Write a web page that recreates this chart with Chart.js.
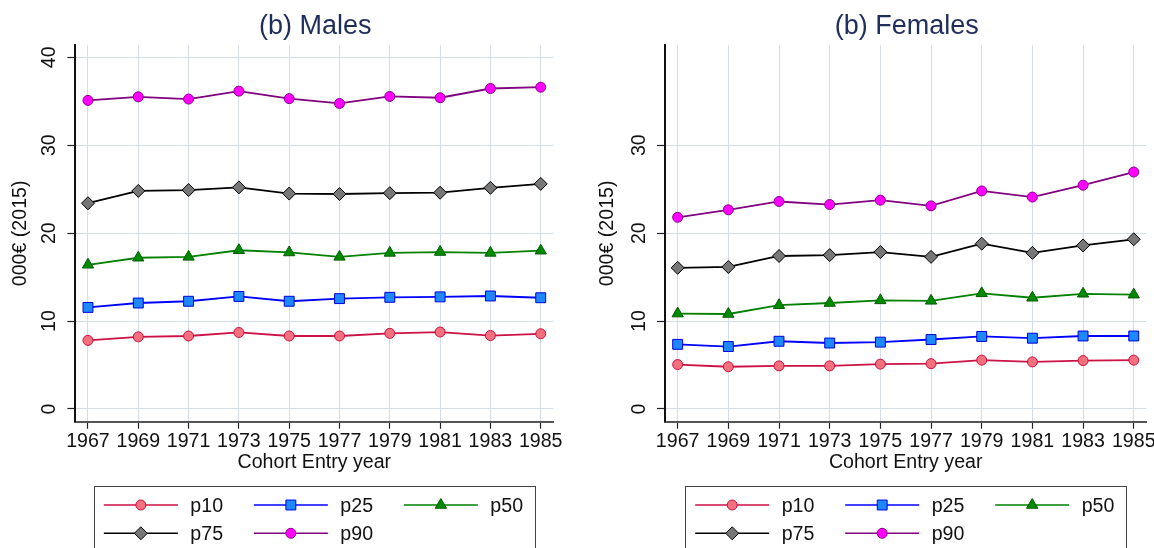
<!DOCTYPE html>
<html>
<head>
<meta charset="utf-8">
<script src="https://cdn.jsdelivr.net/npm/chart.js@4.4.1/dist/chart.umd.min.js"></script>
<style>
  html, body { margin: 0; padding: 0; background: #ffffff; overflow: hidden; width: 1154px; height: 548px; }
  .panel { position: absolute; top: 0; }
  #panelMales { left: 0; }
  #panelFemales { left: 577px; }
</style>
</head>
<body>
<div class="panel" id="panelMales"><canvas id="males" width="577" height="548"></canvas></div>
<div class="panel" id="panelFemales"><canvas id="females" width="603" height="548"></canvas></div>
<script>
// Cohort entry years (x axis ticks)
const years = [1967, 1969, 1971, 1973, 1975, 1977, 1979, 1981, 1983, 1985];
const yTicksMales = [0, 10, 20, 30, 40];
const yTicksFemales = [0, 10, 20, 30];
const seriesNames = ['p10', 'p25', 'p50', 'p75', 'p90'];

// Earnings percentiles, thousand euro (2015 prices) — males
const malesP10 = [7.8, 8.2, 8.3, 8.7, 8.3, 8.3, 8.6, 8.75, 8.35, 8.55];
const malesP25 = [11.55, 12.05, 12.25, 12.8, 12.25, 12.55, 12.7, 12.75, 12.85, 12.65];
const malesP50 = [16.4, 17.2, 17.3, 18.05, 17.8, 17.3, 17.75, 17.85, 17.75, 18.0];
const malesP75 = [23.4, 24.8, 24.9, 25.2, 24.5, 24.45, 24.55, 24.6, 25.15, 25.6];
const malesP90 = [35.1, 35.5, 35.25, 36.15, 35.3, 34.75, 35.55, 35.4, 36.45, 36.6];

// Earnings percentiles, thousand euro (2015 prices) — females
const femalesP10 = [5.05, 4.8, 4.9, 4.9, 5.1, 5.15, 5.55, 5.35, 5.5, 5.55];
const femalesP25 = [7.35, 7.1, 7.7, 7.5, 7.6, 7.9, 8.25, 8.05, 8.3, 8.3];
const femalesP50 = [10.85, 10.8, 11.8, 12.05, 12.35, 12.3, 13.15, 12.65, 13.1, 13.0];
const femalesP75 = [16.05, 16.15, 17.4, 17.5, 17.85, 17.3, 18.8, 17.75, 18.6, 19.3];
const femalesP90 = [21.8, 22.65, 23.6, 23.25, 23.75, 23.1, 24.8, 24.1, 25.45, 26.95];

const FONT = '"Liberation Sans", Arial, sans-serif';
const FSIZE = 19.6;
const TEXT = '#111111';
const GRID = '#d5dee8';

const seriesStyle = [
  { line: '#cc1144', fill: '#f4707e', edge: '#c8103e', shape: 'circle',   r: 5 },
  { line: '#0000ff', fill: '#1e88ff', edge: '#0000e0', shape: 'rect',     r: 7 },
  { line: '#008000', fill: '#008a00', edge: '#005c00', shape: 'triangle', r: 6.5 },
  { line: '#000000', fill: '#777777', edge: '#000000', shape: 'rectRot',  r: 6.5 },
  { line: '#800080', fill: '#ff00ff', edge: '#8b008b', shape: 'circle',   r: 5 }
];

function drawMarker(ctx, st, x, y) {
  ctx.fillStyle = st.fill;
  ctx.strokeStyle = st.edge;
  ctx.lineWidth = 1;
  Chart.helpers.drawPoint(ctx, { radius: st.r, pointStyle: st.shape, rotation: 0, borderWidth: 1 }, x, y);
}

// Panel heading, centred over the plot area
const panelTitle = {
  id: 'panelTitle',
  afterDraw(chart, args, opts) {
    const { ctx, chartArea } = chart;
    ctx.save();
    ctx.font = '27px ' + FONT;
    ctx.fillStyle = '#1f2d5a';
    ctx.textAlign = 'center';
    ctx.textBaseline = 'alphabetic';
    ctx.fillText(opts.text, (chartArea.left + chartArea.right) / 2 + 1, 33.5);
    ctx.restore();
  }
};

// Boxed legend below the axis: three columns of line + marker + label
const panelLegend = {
  id: 'panelLegend',
  afterDraw(chart) {
    const { ctx, chartArea } = chart;
    const cx = (chartArea.left + chartArea.right) / 2;
    const left = cx - 220.5;
    ctx.save();
    ctx.strokeStyle = '#444444';
    ctx.lineWidth = 1;
    ctx.strokeRect(Math.round(left) + 0.5, 486.5, 441, 80);
    chart.data.datasets.forEach((ds, i) => {
      const col = i % 3, row = Math.floor(i / 3);
      const x0 = left + 10 + col * 150;
      const y = 505 + row * 28.3;
      const st = seriesStyle[i];
      ctx.strokeStyle = st.line;
      ctx.lineWidth = 1.6;
      ctx.beginPath();
      ctx.moveTo(x0, y);
      ctx.lineTo(x0 + 74, y);
      ctx.stroke();
      drawMarker(ctx, st, x0 + 37, y);
      ctx.fillStyle = TEXT;
      ctx.font = FSIZE + 'px ' + FONT;
      ctx.textAlign = 'left';
      ctx.textBaseline = 'alphabetic';
      ctx.fillText(ds.label, x0 + 86.5, y + 6.8);
    });
    ctx.restore();
  }
};

function makePanel(canvasId, heading, values, yTicks, axisWidth, yTitlePad, padRight) {
  const datasets = seriesNames.map((name, i) => ({
    label: name,
    data: years.map((yr, j) => ({ x: yr, y: values[i][j] })),
    borderColor: seriesStyle[i].line,
    backgroundColor: seriesStyle[i].fill,
    pointBackgroundColor: seriesStyle[i].fill,
    pointBorderColor: seriesStyle[i].edge,
    pointBorderWidth: 1,
    pointStyle: seriesStyle[i].shape,
    pointRadius: seriesStyle[i].r,
    borderWidth: 1.8,
    tension: 0,
    fill: false
  }));
  return new Chart(document.getElementById(canvasId), {
    type: 'line',
    data: { datasets },
    options: {
      responsive: false,
      animation: false,
      events: [],
      layout: { padding: { top: 45, left: 0, right: padRight, bottom: 548 - 421.7 - 56 } },
      plugins: {
        legend: { display: false },
        tooltip: { enabled: false },
        panelTitle: { text: heading }
      },
      scales: {
        x: {
          type: 'linear',
          min: 1966.5,
          max: 1985.5,
          afterBuildTicks: s => { s.ticks = years.map(v => ({ value: v })); },
          afterFit: s => { s.height = 56; },
          ticks: { callback: v => String(v), font: { family: FONT, size: FSIZE }, color: TEXT, padding: 1, maxRotation: 0, minRotation: 0, autoSkip: false },
          grid: { color: GRID, lineWidth: 1, tickLength: 7, tickColor: '#222222', tickWidth: 1.2 },
          border: { color: '#555555', width: 2 },
          title: { display: true, text: 'Cohort Entry year', font: { family: FONT, size: FSIZE }, color: TEXT, padding: { top: 0, bottom: 3 } }
        },
        y: {
          type: 'linear',
          min: -1.45,
          max: 41.4,
          afterBuildTicks: s => { s.ticks = yTicks.map(v => ({ value: v })); },
          afterFit: s => { s.width = axisWidth; },
          ticks: { callback: v => String(v), font: { family: FONT, size: FSIZE }, color: TEXT, padding: 7, minRotation: 90, maxRotation: 90, crossAlign: 'center' },
          grid: { color: GRID, lineWidth: 1, tickLength: 8, tickColor: '#222222', tickWidth: 1.2 },
          border: { color: '#111111', width: 2 },
          title: { display: true, text: '000€ (2015)', font: { family: FONT, size: FSIZE }, color: TEXT, padding: { top: yTitlePad, bottom: 0 } }
        }
      }
    },
    plugins: [panelTitle, panelLegend]
  });
}

makePanel('males', '(b) Males',
  [malesP10, malesP25, malesP50, malesP75, malesP90],
  yTicksMales, 75.4, 9.2, 577 - 553.3);

makePanel('females', '(b) Females',
  [femalesP10, femalesP25, femalesP50, femalesP75, femalesP90],
  yTicksFemales, 88, 19.0, 603 - 569.4);
</script>
</body>
</html>
